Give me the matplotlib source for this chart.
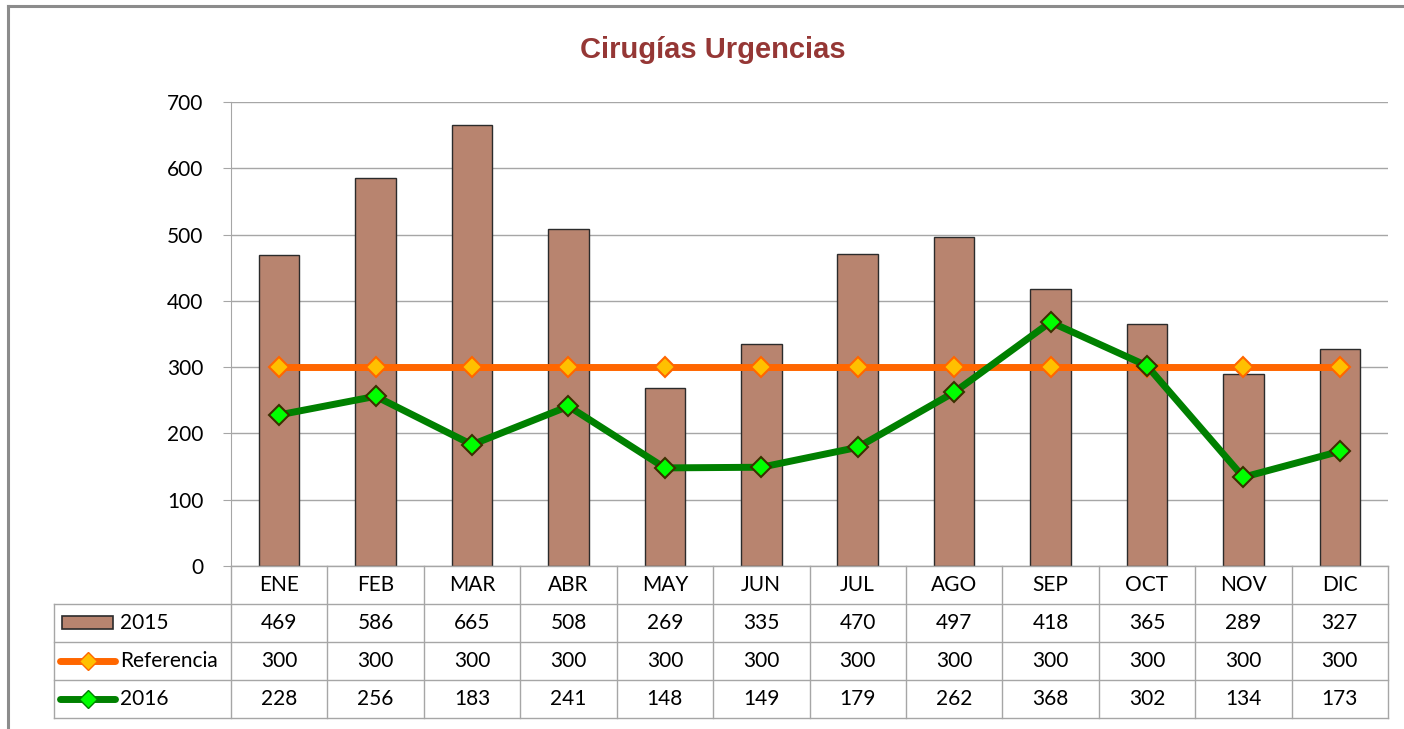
import matplotlib
matplotlib.use("Agg")
import matplotlib.pyplot as plt
import matplotlib.transforms as mtransforms
from matplotlib.lines import Line2D
from matplotlib.patches import Rectangle

# ── Data ────────────────────────────────────────────────────────────────────
months = ["ENE", "FEB", "MAR", "ABR", "MAY", "JUN",
          "JUL", "AGO", "SEP", "OCT", "NOV", "DIC"]
y2015 = [469, 586, 665, 508, 269, 335, 470, 497, 418, 365, 289, 327]
referencia = [300] * 12
y2016 = [228, 256, 183, 241, 148, 149, 179, 262, 368, 302, 134, 173]
yticks = [0, 100, 200, 300, 400, 500, 600, 700]

# ── Styles ──────────────────────────────────────────────────────────────────
W, H = 1404, 729
bar_color, bar_edge = "#B8846F", "#2b2b2b"
ref_color, ref_marker = "#FF6600", "#FFC000"
new_color, new_marker, new_edge = "#008000", "#00FF00", "#3b3000"
grid_color = "#A6A6A6"
font = ["Lato", "DejaVu Sans"]
fs = 15

plt.rcParams["font.family"] = font

fig = plt.figure(figsize=(W / 100, H / 100), dpi=100)

# pixel helpers
def fx(px):
    return px / W

def fy(py):
    return 1 - py / H

ax_l, ax_r, ax_t, ax_b = 231, 1388, 102, 566
ax = fig.add_axes([fx(ax_l), fy(ax_b), fx(ax_r) - fx(ax_l), fy(ax_t) - fy(ax_b)])

x = list(range(len(months)))
ax.bar(x, y2015, width=0.42, color=bar_color, edgecolor=bar_edge, lw=1.0, zorder=2)
ax.plot(x, referencia, color=ref_color, lw=5, marker="D", ms=10,
        mfc=ref_marker, mec=ref_color, mew=1.5, zorder=3)
ax.plot(x, y2016, color=new_color, lw=5, marker="D", ms=10,
        mfc=new_marker, mec=new_edge, mew=1.5, zorder=4)

ax.set_xlim(-0.5, len(months) - 0.5)
ax.set_ylim(0, 700)
ax.set_yticks(yticks)
ax.set_yticklabels([str(v) for v in yticks], fontsize=fs)
ax.set_xticks([])
ax.yaxis.grid(True, color=grid_color, lw=1.0, zorder=0)
ax.set_axisbelow(True)
for s in ["top", "right", "bottom"]:
    ax.spines[s].set_visible(False)
ax.spines["left"].set_color(grid_color)
ax.tick_params(axis="y", length=6, color=grid_color, pad=14)

# ── Data table under the plot ───────────────────────────────────────────────
row_h = 38
tbl_left = 54
rows = [("2015", y2015), ("Referencia", referencia), ("2016", y2016)]
tr = mtransforms.blended_transform_factory(ax.transData, fig.transFigure)
lkw = dict(color=grid_color, lw=1.0, clip_on=False)

# horizontal lines
fig.add_artist(Line2D([fx(ax_l), fx(ax_r)], [fy(ax_b)] * 2, **lkw))
for i in range(1, len(rows) + 2):
    yy = fy(ax_b + i * row_h)
    fig.add_artist(Line2D([fx(tbl_left), fx(ax_r)], [yy, yy], **lkw))
# vertical lines
for b in range(len(months) + 1):
    ax.add_line(Line2D([b - 0.5, b - 0.5], [fy(ax_b), fy(ax_b + 4 * row_h)],
                       transform=tr, **lkw))
fig.add_artist(Line2D([fx(tbl_left)] * 2, [fy(ax_b + row_h), fy(ax_b + 4 * row_h)], **lkw))

# header and values
for j, m in enumerate(months):
    ax.text(j, fy(ax_b + row_h / 2), m, transform=tr, ha="center", va="center",
            fontsize=fs)
    for i, (_, vals) in enumerate(rows):
        ax.text(j, fy(ax_b + row_h * (i + 1.5)), str(vals[j]), transform=tr,
                ha="center", va="center", fontsize=fs)

# row labels with legend keys
for i, (name, _) in enumerate(rows):
    yc = ax_b + row_h * (i + 1.5)
    fig.text(fx(120), fy(yc), name, ha="left", va="center", fontsize=fs)
fig.add_artist(Rectangle((fx(62), fy(629)), fx(51), fy(616) - fy(629),
                         facecolor=bar_color, edgecolor=bar_edge, lw=1.2))
for i, (lc, mfc, mec) in enumerate([(ref_color, ref_marker, ref_color),
                                    (new_color, new_marker, new_color)]):
    yc = fy(ax_b + row_h * (i + 2.5))
    fig.add_artist(Line2D([fx(60), fx(115)], [yc, yc], color=lc, lw=5,
                          solid_capstyle="round"))
    fig.add_artist(Line2D([fx(88)], [yc], marker="D", ms=9, mfc=mfc,
                          mec=mec, mew=1.0))

# title
fig.text(fx(713), fy(50), "Cirugías Urgencias", ha="center", va="center",
         fontsize=21, fontweight="bold", color="#953735",
         family=["Liberation Sans", "DejaVu Sans"])

# outer chart border (left and top visible)
fig.add_artist(Line2D([fx(8), fx(8)], [0, fy(6)], color="#8C8C8C", lw=2.2))
fig.add_artist(Line2D([fx(8), 1], [fy(6), fy(6)], color="#8C8C8C", lw=2.2))

fig.savefig("out.png", dpi=100)
